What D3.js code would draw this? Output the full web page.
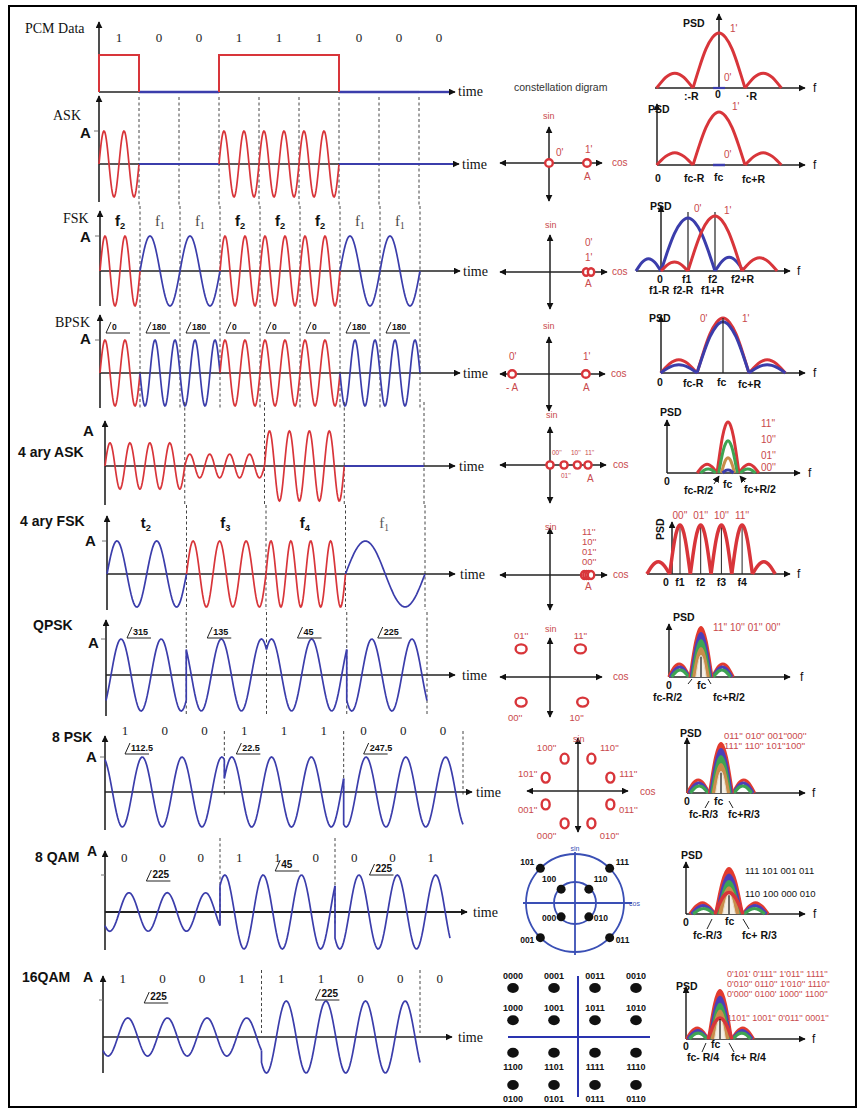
<!DOCTYPE html>
<html><head><meta charset="utf-8">
<script src="https://cdn.jsdelivr.net/npm/d3@7"></script>
<style>body{margin:0;background:#fff}svg{display:block}</style>
</head><body>
<script>
// ================= DATA =================
const pcmBits   = [1,0,0,1,1,1,0,0,0];
const askBits   = [1,0,0,1,1,1,0,0,0];
const fskBits   = [1,0,0,1,1,1,0,0];
const fskCyclesByBit = {1:2, 0:1};
const fskLabels = [["f","2"],["f","1"],["f","1"],["f","2"],["f","2"],["f","2"],["f","1"],["f","1"]];
const bpskPhases = [0,180,180,0,0,0,180,180];
const ask4Amps   = [0.66,0.34,1,0];
const ask4Cycles = 4;
const fsk4Cycles = [2,3,4,1];
const fsk4Labels = [["t","2"],["f","3"],["f","4"],["f","1"]];
const qpskPhases = [315,135,45,225];
const qpskCycles = 2;
const psk8Bits   = [1,0,0,1,1,1,0,0,0];
const psk8Phases = [112.5,22.5,247.5];
const psk8Cycles = 3;
const qam8Bits   = [0,0,0,1,1,0,0,0,1];
const qam8Phases = [225,45,225];
const qam8Amps   = [0.52,1,1];
const qam8Cycles = 3;
const qam16Bits   = [1,0,0,1,1,1,0,0,0];
const qam16Phases = [225,225];
const qam16Amps   = [0.53,1];
const qam16Cycles = 4;

// constellations
const askConst  = [{i:0,q:0},{i:1,q:0}];
const fskConst  = [{i:0.95,q:0},{i:1.08,q:0}];
const bpskConst = [{i:-0.97,q:0},{i:0.97,q:0}];
const ask4Const = [{i:0,q:0},{i:0.37,q:0},{i:0.72,q:0},{i:1,q:0}];
const fsk4Const = [{i:0.9,q:0},{i:0.96,q:0},{i:1.02,q:0},{i:1.08,q:0}];
const qpskConst = [{i:0.8,q:0.74,l:"11''"},{i:-0.76,q:0.74,l:"01''"},{i:-0.76,q:-0.66,l:"00''"},{i:0.86,q:-0.66,l:"10''"}];
const psk8Const = [{a:22.5,l:"111''"},{a:67.5,l:"110''"},{a:112.5,l:"100''"},{a:157.5,l:"101''"},
                   {a:202.5,l:"001''"},{a:247.5,l:"000''"},{a:292.5,l:"010''"},{a:337.5,l:"011''"}];
const qam8Const = [{r:1,a:45,l:"111"},{r:1,a:135,l:"101"},{r:1,a:225,l:"001"},{r:1,a:315,l:"011"},
                   {r:0.4,a:45,l:"110"},{r:0.4,a:135,l:"100"},{r:0.4,a:225,l:"000"},{r:0.4,a:315,l:"010"}];
const qam16Const = [
  {i:-3,q:3,l:"0000"},{i:-1,q:3,l:"0001"},{i:1,q:3,l:"0011"},{i:3,q:3,l:"0010"},
  {i:-3,q:1,l:"1000"},{i:-1,q:1,l:"1001"},{i:1,q:1,l:"1011"},{i:3,q:1,l:"1010"},
  {i:-3,q:-1,l:"1100"},{i:-1,q:-1,l:"1101"},{i:1,q:-1,l:"1111"},{i:3,q:-1,l:"1110"},
  {i:-3,q:-3,l:"0100"},{i:-1,q:-3,l:"0101"},{i:1,q:-3,l:"0111"},{i:3,q:-3,l:"0110"}];

// PSD lobes (a,b in frequency units, h relative height)
const psdPcm  = [{a:-2.4,b:-1,h:0.27},{a:-1,b:1,h:1},{a:1,b:2.4,h:0.27}];
const psdAsk  = [{a:-2.4,b:-1,h:0.23},{a:-1,b:1,h:1},{a:1,b:2.4,h:0.23}];
const psdFskBlue = [{a:-0.93,b:0,h:0.23},{a:0,b:2,h:1},{a:2,b:3.05,h:0.26}];
const psdFskRed  = [{a:0,b:1,h:0.17},{a:1,b:3,h:1.04},{a:3,b:4.3,h:0.25}];
const psdBpskRed  = [{a:-2.4,b:-1,h:0.24},{a:-1,b:1,h:1},{a:1,b:2.4,h:0.24}];
const psdBpskBlue = [{a:-2.4,b:-1,h:0.15},{a:-1,b:1,h:0.93},{a:1,b:2.4,h:0.15}];
const psdAsk4Red   = [{a:-2.8,b:-1,h:0.17},{a:-1,b:1,h:1},{a:1,b:2.8,h:0.17}];
const psdAsk4Green = [{a:-2.5,b:-1.1,h:0.08},{a:-0.85,b:0.85,h:0.63},{a:1.1,b:2.5,h:0.08}];
const psdAsk4Orange= [{a:-0.6,b:0.6,h:0.3}];
const psdAsk4Blue  = [{a:-0.5,b:0.5,h:0.06}];
const psdFsk4 = [{a:-1.6,b:-0.5,h:0.25},{a:-0.5,b:0.5,h:1},{a:0.5,b:1.5,h:1},{a:1.5,b:2.5,h:1},{a:2.5,b:3.5,h:1},{a:3.5,b:4.6,h:0.25}];
const fsk4PsdLabels = ["00''","01''","10''","11''"];
const qpskPsdH = [1,0.88,0.74,0.58];   const qpskPsdW = [1,0.9,0.8,0.68];   const qpskSideH = [0.26,0.2,0.14];
const psk8PsdH = [1,0.88,0.74,0.58];   const psk8PsdW = [1,0.9,0.8,0.68];   const psk8SideH = [0.26,0.2,0.14];
const qam8PsdH = [1,0.86,0.72,0.58];   const qam8PsdW = [1,0.9,0.8,0.7];    const qam8SideH = [0.24,0.18,0.12];
const qam8Inner = 0.47;
const qam16PsdH = [1,0.86,0.72,0.58];  const qam16PsdW = [1,0.9,0.8,0.7];   const qam16SideH = [0.22,0.17,0.12];
const qam16Inner = 0.43;
const arch = [0,0.38,0.71,0.92,1,0.92,0.71,0.38,0];

// ================= DRAWING =================
const W=860,H=1110;
const RED="#d8353a", BLUE="#3b3dab", LRED="#c9494c";
const SERIF='"Liberation Serif","Times New Roman",serif';
const SANS='"Liberation Sans",Arial,sans-serif';
const LAYER=["#e23b2f","#4d3fb8","#3ea453","#c98d4b"];

const svg=d3.select("body").append("svg").attr("width",W).attr("height",H);
svg.append("rect").attr("width",W).attr("height",H).attr("fill","#fff");
svg.append("rect").attr("x",9).attr("y",6).attr("width",847).attr("height",1101)
   .attr("fill","none").attr("stroke","#000").attr("stroke-width",2);
const defs=svg.append("defs");
defs.append("marker").attr("id","ah").attr("viewBox","0 0 10 10").attr("refX",9).attr("refY",5)
  .attr("markerWidth",7).attr("markerHeight",7).attr("markerUnits","userSpaceOnUse")
  .attr("orient","auto-start-reverse").append("path").attr("d","M0,0L10,5L0,10z").attr("fill","#111");

function L(x1,y1,x2,y2,o={}){
  const l=svg.append("line").attr("x1",x1).attr("y1",y1).attr("x2",x2).attr("y2",y2)
    .attr("stroke",o.color||"#222").attr("stroke-width",o.w||1.3);
  if(o.end) l.attr("marker-end","url(#ah)");
  if(o.dash) l.attr("stroke-dasharray",o.dash);
  return l;
}
function T(x,y,s,o={}){
  const t=svg.append("text").attr("x",x).attr("y",y).text(s)
    .attr("font-family",o.serif?SERIF:SANS).attr("font-size",o.size||11).attr("fill",o.color||"#111");
  if(o.bold) t.attr("font-weight","bold");
  if(o.anchor) t.attr("text-anchor",o.anchor);
  if(o.rotate) t.attr("transform",`rotate(${o.rotate},${x},${y})`);
  return t;
}
function Sub(x,y,pair,o={}){
  const t=T(x,y,pair[0],o);
  t.append("tspan").attr("font-size",(o.size||14)*0.62).attr("dy",3).text(pair[1]);
  return t;
}
function angleLabel(x,y,s,size){
  svg.append("path").attr("d",`M${x},${y}L${x+5},${y-11}M${x},${y}L${x+24},${y}`)
    .attr("stroke","#222").attr("fill","none").attr("stroke-width",1);
  T(x+6,y-3,s,{size:size||9,bold:true});
}

// ---------- waveform rows ----------
function waveRow(c, segs){
  const xs=d3.scaleLinear().domain([0,c.n]).range([c.x0,c.x1]);
  const ys=d3.scaleLinear().domain([-1,1]).range([c.base+c.amp,c.base-c.amp]);
  d3.range(1,c.dashN+1).forEach(k=>L(xs(k),c.dashTop,xs(k),c.dashBot,{dash:"3,2.5",w:1,color:"#444"}));
  L(c.x0,c.bot,c.x0,c.top,{end:true,w:1.6});
  L(c.x0,c.base,c.arrow,c.base,{end:true,w:c.axisW||1.6});
  T(c.timeX,c.base+5,"time",{serif:true,size:14});
  let prev=null;
  segs.forEach(s=>{
    if(s.amp===0){
      L(xs(s.t0),c.base,Math.min(xs(s.t1),c.arrow-6),c.base,{color:BLUE,w:2.2});
      prev=null; return;
    }
    const N=Math.round(s.cycles*28)+10;
    const pts=d3.range(N+1).map(k=>{
      const t=s.t0+(s.t1-s.t0)*k/N;
      const v=s.amp*Math.sin(2*Math.PI*s.cycles*k/N + s.phase*Math.PI/180);
      return [xs(t),ys(v)];
    });
    if(prev) pts.unshift(prev);
    svg.append("path").attr("d",d3.line()(pts)).attr("fill","none")
      .attr("stroke",s.color).attr("stroke-width",1.7);
    prev=pts[pts.length-1];
  });
  return {xs,ys};
}
function aLabel(x,y,c){ T(x,y,"A",{bold:true,size:15}); L(c.x0-5,c.base-c.amp,c.x0-1,c.base-c.amp,{w:1,color:"#777"}); }
const BITC="#222";

// PCM row
(function(){
  const xs=d3.scaleLinear().domain([0,9]).range([99,459]);
  const ys=d3.scaleLinear().domain([0,1]).range([92,55]);
  L(99,92,99,22,{end:true,w:1.6});
  L(99,92,455,92,{end:true,w:1.6});
  T(458,96,"time",{serif:true,size:14});
  T(25,33,"PCM Data",{serif:true,size:14});
  pcmBits.forEach((b,i)=>{
    T(xs(i+0.5),42,String(b),{serif:true,size:13,anchor:"middle",color:BITC});
    if(!b) L(xs(i),92,Math.min(xs(i+1),449),92,{color:BLUE,w:2.4});
  });
  let i=0;
  while(i<pcmBits.length){
    if(pcmBits[i]){ let j=i; while(j<pcmBits.length&&pcmBits[j]) j++;
      svg.append("path").attr("d",`M${xs(i)},${ys(0)}V${ys(1)}H${xs(j)}V${ys(0)}`)
        .attr("fill","none").attr("stroke",RED).attr("stroke-width",2);
      i=j; } else i++;
  }
})();

// ASK
const cAsk={x0:99,x1:459,n:9,base:164,amp:33,top:96,bot:202,arrow:459,timeX:462,dashTop:97,dashBot:205,dashN:8};
waveRow(cAsk, askBits.map((b,i)=>({t0:i,t1:i+1,cycles:2,phase:0,amp:b,color:RED})));
T(53,120,"ASK",{serif:true,size:14}); aLabel(80,138,cAsk);

// FSK
const cFsk={x0:100,x1:420,n:8,base:271,amp:35,top:211,bot:306,arrow:460,timeX:463,dashTop:206,dashBot:310,dashN:8};
const fskR=waveRow(cFsk, fskBits.map((b,i)=>({t0:i,t1:i+1,cycles:fskCyclesByBit[b],phase:0,amp:1,color:b?RED:BLUE})));
T(63,223,"FSK",{serif:true,size:14}); aLabel(80,242,cFsk);
fskLabels.forEach((p,i)=>{
  const isF2=p[1]==="2";
  Sub(fskR.xs(i+0.5)-5,226,p,{size:15,bold:isF2,serif:!isF2,color:isF2?"#111":"#444"});
});

// BPSK
const cBpsk={x0:100,x1:420,n:8,base:373,amp:33,top:315,bot:408,arrow:460,timeX:463,dashTop:311,dashBot:410,dashN:8};
const bpskR=waveRow(cBpsk, bpskPhases.map((p,i)=>({t0:i,t1:i+1,cycles:2,phase:p,amp:1,color:p===0?RED:BLUE})));
T(55,327,"BPSK",{serif:true,size:14}); aLabel(80,344,cBpsk);
bpskPhases.forEach((p,i)=>angleLabel(bpskR.xs(i)+6,333,String(p),8.5));

// 4-ary ASK
const cAsk4={x0:105,x1:424,n:4,base:466,amp:35,top:421,bot:505,arrow:455,timeX:459,dashTop:402,dashBot:505,dashN:4};
waveRow(cAsk4, ask4Amps.map((a,i)=>({t0:i,t1:i+1,cycles:ask4Cycles,phase:0,amp:a,color:RED})));
T(18,457,"4 ary ASK",{bold:true,size:14}); T(83,436,"A",{bold:true,size:15});

// 4-ary FSK
const cFsk4={x0:107,x1:425,n:4,base:574,amp:33,top:516,bot:610,arrow:455,timeX:460,dashTop:505,dashBot:610,dashN:4};
const fsk4R=waveRow(cFsk4, fsk4Cycles.map((c,i)=>({t0:i,t1:i+1,cycles:c,phase:0,amp:1,color:c>2?RED:BLUE})));
T(20,526,"4 ary FSK",{bold:true,size:14}); aLabel(85,546,cFsk4);
fsk4Labels.forEach((p,i)=>Sub(fsk4R.xs(i+0.5)-6,528,p,{size:15,bold:p[1]!=="1",serif:p[1]==="1",color:p[1]==="1"?"#555":"#111"}));

// QPSK
const cQpsk={x0:106,x1:427,n:4,base:675,amp:36,top:620,bot:716,arrow:455,timeX:462,dashTop:612,dashBot:716,dashN:4};
const qpskR=waveRow(cQpsk, qpskPhases.map((p,i)=>({t0:i,t1:i+1,cycles:qpskCycles,phase:p,amp:1,color:BLUE})));
T(33,630,"QPSK",{bold:true,size:14}); aLabel(88,648,cQpsk);
qpskPhases.forEach((p,i)=>angleLabel(qpskR.xs(i)+(i<2?21:31),638,String(p),9));

// 8PSK
const cPsk8={x0:105,x1:463,n:3,base:792,amp:35,top:736,bot:830,arrow:472,timeX:476,dashTop:731,dashBot:795,dashN:3};
const psk8R=waveRow(cPsk8, psk8Phases.map((p,i)=>({t0:i,t1:i+1,cycles:psk8Cycles,phase:p,amp:1,color:BLUE})));
T(52,742,"8 PSK",{bold:true,size:14}); aLabel(86,762,cPsk8);
const psk8BitX=d3.scaleLinear().domain([0,9]).range([105,463]);
psk8Bits.forEach((b,i)=>T(psk8BitX(i+0.5),735,String(b),{serif:true,size:13,anchor:"middle",color:BITC}));
psk8Phases.forEach((p,i)=>angleLabel(psk8R.xs(i)+(i===1?12:20),754,String(p),9));

// 8QAM
const cQam8={x0:105,x1:450,n:3,base:912,amp:37,top:851,bot:950,arrow:467,timeX:473,dashTop:838,dashBot:925,dashN:2,axisW:2.2};
const qam8R=waveRow(cQam8, qam8Phases.map((p,i)=>({t0:i,t1:i+1,cycles:qam8Cycles,phase:p,amp:qam8Amps[i],color:BLUE})));
T(35,862,"8 QAM",{bold:true,size:14}); T(87,856,"A",{bold:true,size:14});
L(101,875,105,875,{w:1,color:"#777"});
const qam8BitX=d3.scaleLinear().domain([0,9]).range([105,450]);
qam8Bits.forEach((b,i)=>T(qam8BitX(i+0.5),862,String(b),{serif:true,size:13,anchor:"middle",color:BITC}));
qam8Phases.forEach((p,i)=>angleLabel(qam8R.xs(i+[0.36,0.48,0.3][i]),[881,871,875][i],String(p),10));

// 16QAM
const cQam16={x0:103,x1:420,n:2,base:1037,amp:36,top:976,bot:1073,arrow:452,timeX:458,dashTop:970,dashBot:1033,dashN:2};
const qam16R=waveRow(cQam16, qam16Phases.map((p,i)=>({t0:i,t1:i+1,cycles:qam16Cycles,phase:p,amp:qam16Amps[i],color:BLUE})));
T(22,982,"16QAM",{bold:true,size:14}); T(83,982,"A",{bold:true,size:14});
L(99,1000,103,1000,{w:1,color:"#777"});
const qam16BitX=d3.scaleLinear().domain([0,8]).range([103,420]);
qam16Bits.forEach((b,i)=>T(qam16BitX(i+0.5),983,String(b),{serif:true,size:13,anchor:"middle",color:BITC}));
qam16Phases.forEach((p,i)=>angleLabel(qam16R.xs(i+[0.26,0.34][i]),[1003,1000][i],String(p),10));

// ---------- constellations ----------
function cAxes(cx,cy,l,r,t,b){
  L(cx,cy,l,cy,{end:true,w:1.5}); L(cx,cy,r,cy,{end:true,w:1.5});
  L(cx,cy,cx,t,{end:true,w:1.5}); L(cx,cy,cx,b,{end:true,w:1.5});
}
function cSc(cx,cy,k){return {x:d3.scaleLinear().domain([-1,1]).range([cx-k,cx+k]),y:d3.scaleLinear().domain([-1,1]).range([cy+k,cy-k])};}
function ring(x,y,rx,ry){svg.append("ellipse").attr("cx",x).attr("cy",y).attr("rx",rx||3.8).attr("ry",ry||3.8)
  .attr("fill","#fff").attr("stroke",RED).attr("stroke-width",2.4);}
const sm={size:9,color:LRED};
T(514,91,"constellation digram",{size:10.5,color:"#333"});
(function(){const s=cSc(549,163,38); cAxes(549,163,500,602,127,201);
  askConst.forEach(p=>ring(s.x(p.i),s.y(p.q)));
  T(543,119,"sin",sm); T(612,166,"cos",{size:10,color:LRED});
  T(556,156,"0'",{size:10,color:LRED}); T(585,153,"1'",{size:10,color:LRED}); T(584,180,"A",{size:10,color:LRED});})();
(function(){const s=cSc(550,272,38); cAxes(550,272,500,607,235,309);
  fskConst.forEach(p=>ring(s.x(p.i),s.y(p.q),3.2,3.8));
  T(545,228,"sin",sm); T(612,275,"cos",{size:10,color:LRED});
  T(585,246,"0'",{size:10,color:LRED}); T(585,261,"1'",{size:10,color:LRED}); T(585,287,"A",{size:10,color:LRED});})();
(function(){const s=cSc(549,374,38); cAxes(549,374,500,605,337,411);
  bpskConst.forEach(p=>ring(s.x(p.i),s.y(p.q)));
  T(543,329,"sin",sm); T(611,377,"cos",{size:10,color:LRED});
  T(509,360,"0'",{size:10,color:LRED}); T(506,391,"- A",{size:10,color:LRED});
  T(583,360,"1'",{size:10,color:LRED}); T(583,391,"A",{size:10,color:LRED});})();
(function(){const s=cSc(550,465,38); cAxes(550,465,500,606,427,503);
  ask4Const.forEach(p=>ring(s.x(p.i),s.y(p.q),3.6,3.6));
  T(546,418,"sin",sm); T(613,468,"cos",{size:10,color:LRED});
  T(552,455,"00''",{size:6.5,color:LRED}); T(571,455,"10''",{size:6.5,color:LRED}); T(585,455,"11''",{size:6.5,color:LRED});
  T(561,478,"01''",{size:6.5,color:LRED}); T(587,482,"A",{size:10,color:LRED});})();
(function(){const s=cSc(550,575,38); cAxes(550,575,500,607,528,610);
  fsk4Const.forEach(p=>ring(s.x(p.i),s.y(p.q),3.2,4));
  T(545,530,"sin",sm); T(613,578,"cos",{size:10,color:LRED});
  ["11''","10''","01''","00''"].forEach((t,k)=>T(582,535+k*10,t,{size:9.5,color:LRED}));
  T(585,590,"A",{size:10,color:LRED});})();
(function(){const s=cSc(550,677,38); cAxes(550,677,500,602,638,717);
  qpskConst.forEach(p=>ring(s.x(p.i),s.y(p.q),5.5,4.5));
  T(545,632,"sin",sm); T(613,680,"cos",{size:10,color:LRED});
  qpskConst.forEach(p=>T(s.x(p.i)+(p.q>0?0:-6),s.y(p.q)+(p.q>0?-10:19),p.l,{size:9.5,color:LRED,anchor:"middle"}));})();
(function(){const cx=578,cy=791,r=35; cAxes(cx,cy,527,628,738,832);
  T(573,742,"sin",sm); T(640,795,"cos",{size:10,color:LRED});
  psk8Const.forEach(p=>{const a=p.a*Math.PI/180; const x=cx+r*Math.cos(a), y=cy-r*Math.sin(a);
    ring(x,y,4,5);
    T(x+18*Math.sign(Math.cos(a)),y-13*Math.sin(a)+4,p.l,{size:9.5,color:LRED,anchor:"middle"});});})();
(function(){const cx=575,cy=903,R=49;
  const QB="#3a4fb5";
  svg.append("circle").attr("cx",cx).attr("cy",cy).attr("r",R).attr("fill","none").attr("stroke",QB).attr("stroke-width",1.8);
  svg.append("circle").attr("cx",cx).attr("cy",cy).attr("r",21).attr("fill","none").attr("stroke",QB).attr("stroke-width",1.8);
  L(523,cy,632,cy,{color:QB,w:1.8}); L(cx,852,cx,955,{color:QB,w:1.8});
  T(575,851,"sin",{size:7,color:QB,anchor:"middle"}); T(629,906,"cos",{size:7,color:QB});
  qam8Const.forEach(p=>{const a=p.a*Math.PI/180, rr=p.r*R; const x=cx+rr*Math.cos(a), y=cy-rr*Math.sin(a);
    svg.append("circle").attr("cx",x).attr("cy",y).attr("r",4.5).attr("fill","#111");
    const right=Math.cos(a)>0, top=Math.sin(a)>0;
    let lx,ly,anc;
    if(p.r===1){lx=x+(right?6:-6); ly=y+(top?-3:5); anc=right?"start":"end";}
    else {lx=x+(right?5:-5); ly=y+(top?-7:4); anc=right?"start":"end";}
    T(lx,ly,p.l,{size:8.5,bold:true,anchor:anc});});})();
(function(){const xs=d3.scaleLinear().domain([-3,3]).range([513,636]);
  const ys=d3.scaleLinear().domain([-3,3]).range([1085,988]);
  L(508,1037,650,1037,{color:"#2a34b0",w:2}); L(578,976,578,1097,{color:"#2a34b0",w:2});
  qam16Const.forEach(p=>{const x=xs(p.i),y=ys(p.q);
    svg.append("ellipse").attr("cx",x).attr("cy",y).attr("rx",5.8).attr("ry",5).attr("fill","#111");
    T(x,p.q>0?y-9:y+17,p.l,{size:9,bold:true,anchor:"middle"});});})();

// ---------- PSD panels ----------
function archPts(xs,ys,a,b,h){return arch.map((p,k)=>[xs(a+(b-a)*k/(arch.length-1)),ys(h*p)]);}
function lobe(xs,ys,l,color,w,fill){
  svg.append("path").attr("d",d3.line().curve(d3.curveNatural)(archPts(xs,ys,l.a,l.b,l.h)))
    .attr("fill",fill||"none").attr("stroke",color).attr("stroke-width",w).attr("stroke-linejoin","round");
}
function psdAxes(ox,base,top,hl,hr,fx){
  L(ox,base,ox,top,{end:true,w:1.5}); L(hl,base,hr,base,{end:true,w:1.5});
  T(fx,base+4,"f",{size:12});
}
const B={bold:true,size:10.5};
const rl={size:10,color:LRED};
(function(){const xs=d3.scaleLinear().domain([0,1]).range([719,745]);const ys=d3.scaleLinear().domain([0,1]).range([88,33]);
  psdAxes(719,88,14,655,805,813);
  psdPcm.forEach(l=>lobe(xs,ys,l,RED,3));
  L(713,88,725,88,{color:BLUE,w:2.2});
  T(683,27,"PSD",B); T(730,32,"1'",rl); T(724,81,"0'",rl);
  T(684,100,":-R",B); T(715,98,"0",B); T(746,100,"·R",B);})();
(function(){const xs=d3.scaleLinear().domain([0,1]).range([719,745]);const ys=d3.scaleLinear().domain([0,1]).range([165,112]);
  psdAxes(657,165,104,657,805,813);
  psdAsk.forEach(l=>lobe(xs,ys,l,RED,3));
  L(713,165,725,165,{color:BLUE,w:2.5});
  T(648,113,"PSD",B); T(732,110,"1'",rl); T(724,158,"0'",rl);
  T(655,182,"0",B); T(684,182,"fc-R",B); T(714,181,"fc",B); T(742,183,"fc+R",B);})();
(function(){const xs=d3.scaleLinear().domain([0,1]).range([661,688]);const ys=d3.scaleLinear().domain([0,1]).range([271,218]);
  psdAxes(661,271,206,636,790,797);
  L(xs(1),271,xs(1),212,{w:1.2}); L(xs(2),271,xs(2),212,{w:1.2});
  psdFskBlue.forEach(l=>lobe(xs,ys,l,BLUE,3));
  psdFskRed.forEach(l=>lobe(xs,ys,l,RED,3));
  T(650,210,"PSD",B); T(694,212,"0'",rl); T(724,214,"1'",rl);
  T(657,283,"0",B); T(682,283,"f1",B); T(708,283,"f2",B); T(731,283,"f2+R",B);
  T(649,294,"f1-R",B); T(673,294,"f2-R",B); T(701,294,"f1+R",B);})();
(function(){const xs=d3.scaleLinear().domain([0,1]).range([723,749]);const ys=d3.scaleLinear().domain([0,1]).range([373,318]);
  psdAxes(661,373,316,661,805,813);
  psdBpskRed.forEach(l=>lobe(xs,ys,l,RED,3));
  psdBpskBlue.forEach(l=>lobe(xs,ys,l,BLUE,3));
  L(xs(0),373,xs(0),318,{w:1.2});
  T(649,322,"PSD",B); T(700,322,"0'",rl); T(742,322,"1'",rl);
  T(657,386,"0",B); T(683,387,"fc-R",B); T(717,386,"fc",B); T(738,388,"fc+R",B);})();
(function(){const xs=d3.scaleLinear().domain([0,1]).range([728,739]);const ys=d3.scaleLinear().domain([0,1]).range([473,422]);
  psdAxes(667,473,420,667,800,808);
  psdAsk4Red.forEach(l=>lobe(xs,ys,l,RED,3));
  psdAsk4Green.forEach(l=>lobe(xs,ys,l,"#3ea453",3));
  psdAsk4Orange.forEach(l=>lobe(xs,ys,l,"#c98d4b",3));
  psdAsk4Blue.forEach(l=>lobe(xs,ys,l,BLUE,3));
  T(660,416,"PSD",B);
  ["11''","10''","01''","00''"].forEach((t,k)=>T(761,[427,443,459,471][k],t,rl));
  T(664,485,"0",B); T(684,494,"fc-R/2",B); T(723,488,"fc",B); T(744,493,"fc+R/2",B);
  L(714,484,719,476,{w:1,end:true}); L(745,482,740,476,{w:1,end:true});})();
(function(){const xs=d3.scaleLinear().domain([0,1]).range([680,700.7]);const ys=d3.scaleLinear().domain([0,1]).range([574,525]);
  psdAxes(672,574,522,647,790,797);
  d3.range(4).forEach(k=>L(xs(k),574,xs(k),527,{w:1}));
  psdFsk4.forEach(l=>lobe(xs,ys,l,RED,3.5));
  fsk4PsdLabels.forEach((t,k)=>T(xs(k),519,t,{size:10,color:LRED,anchor:"middle"}));
  T(664,540,"PSD",{bold:true,size:10.5,rotate:-90});
  T(663,586,"0",B); ["f1","f2","f3","f4"].forEach((t,k)=>T(xs(k),586,t,{bold:true,size:10.5,anchor:"middle"}));})();
function layered(cx,unit,base,peak,H_,W_,S_,inner){
  const xs=d3.scaleLinear().domain([0,1]).range([cx,cx+unit]);
  const ys=d3.scaleLinear().domain([0,1]).range([base,peak]);
  S_.forEach((h,k)=>{const sh=k*0.12;
    lobe(xs,ys,{a:-2.8+sh,b:-1-sh*0.3,h:h},LAYER[k],3.2);
    lobe(xs,ys,{a:1+sh*0.3,b:2.8-sh,h:h},LAYER[k],3.2);});
  H_.forEach((h,k)=>lobe(xs,ys,{a:-W_[k],b:W_[k],h:h},LAYER[k],2,LAYER[k]));
  lobe(xs,ys,{a:-0.45,b:0.45,h:H_[H_.length-1]*0.75},"#e8dcc8",1,"#f4efe6");
  if(inner) lobe(xs,ys,{a:-1,b:1,h:inner},RED,3.5);
  L(cx,base,cx,ys(H_[H_.length-1]*0.7),{w:1.2,color:"#111"});
}
(function(){psdAxes(669,677,624,669,790,800);
  layered(701,11.5,677,627,qpskPsdH,qpskPsdW,qpskSideH);
  T(673,621,"PSD",B); T(713,631,"11''  10''  01''  00''",rl);
  T(666,689,"0",B); T(697,689,"fc",B); T(653,701,"fc-R/2",B); T(713,701,"fc+R/2",B);
  L(688,684,692,679,{w:1}); L(711,684,708,679,{w:1});})();
(function(){psdAxes(687,793,738,687,805,812);
  layered(721,12,793,743,psk8PsdH,psk8PsdW,psk8SideH);
  T(680,737,"PSD",B);
  T(724,739,"011''  010''  001''000''",{size:9.5,color:LRED}); T(724,749,"111''  110''  101''100''",{size:9.5,color:LRED});
  T(684,805,"0",B); T(714,805,"fc",B); T(689,818,"fc-R/3",B); T(728,818,"fc+R/3",B);
  L(705,808,709,801,{w:1}); L(733,808,729,801,{w:1});})();
(function(){psdAxes(686,914,862,686,805,813);
  layered(729,14,914,868,qam8PsdH,qam8PsdW,qam8SideH,qam8Inner);
  T(681,859,"PSD",B);
  T(745,874,"111  101   001  011",{size:9.5}); T(745,897,"110  100   000  010",{size:9.5});
  T(683,926,"0",B); T(725,925,"fc",B); T(693,939,"fc-R/3",B); T(742,939,"fc+ R/3",B);
  L(707,929,712,919,{w:1}); L(749,929,743,919,{w:1});})();
(function(){psdAxes(686,1039,987,686,805,812);
  layered(720,12,1039,990,qam16PsdH,qam16PsdW,qam16SideH,qam16Inner);
  T(676,990,"PSD",B);
  const s={size:9,color:LRED};
  T(727,977,"0'101'   0'111''  1'011''  1111''",s);
  T(727,987,"0'010''  0110''  1'010''  1110''",s);
  T(727,997,"0'000''  0100'  1000''  1100''",s);
  T(727,1021,"1101''  1001''  0'011''  0001''",s);
  T(683,1050,"0",B); T(711,1048,"fc",B); T(687,1061,"fc- R/4",B); T(731,1061,"fc+ R/4",B);
  L(702,1052,706,1043,{w:1}); L(734,1052,729,1043,{w:1});})();
</script>
</body></html>
